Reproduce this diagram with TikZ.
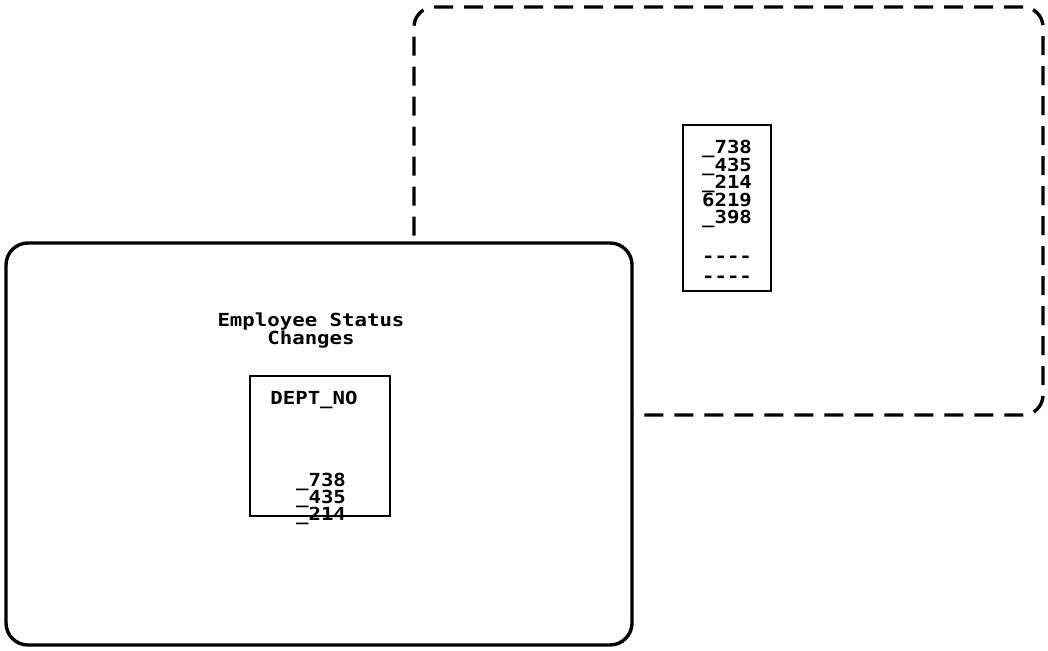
\documentclass[tikz,border=0pt]{standalone}
\usepackage{fontspec}
\newfontfamily\plotfont[FakeStretch=1.15]{DejaVu Sans Mono Bold}
\begin{document}
\begin{tikzpicture}[x=1pt,y=-1pt,
  screen/.style={draw=black,line width=3.4pt,rounded corners=22pt,fill=white,inner sep=0pt},
  ghost/.style={draw=black,line width=3.4pt,rounded corners=20pt,dash pattern=on 19pt off 11pt,inner sep=0pt},
  field/.style={draw=black,line width=1.5pt,fill=white,inner sep=0pt},
  label/.style={font=\plotfont\fontsize{18}{18}\selectfont,inner sep=0pt,anchor=base}]
  \useasboundingbox (0,0) rectangle (1048,650);

  % background window (dashed outline) with its value column
  \node[ghost,minimum width=629pt,minimum height=408pt] (back) at (728.5,211) {};
  \node[field,minimum width=88pt,minimum height=166pt] (col) at (727,208) {};
  \node[label] (b1) at (727,153.5) {\_738};
  \node[label] (b2) at (727,171) {\_435};
  \node[label] (b3) at (727,188.5) {\_214};
  \node[label] (b4) at (727,206) {6219};
  \node[label] (b5) at (727,223.5) {\_398};
  \node[label] (b6) at (727,262) {{-}{-}{-}{-}};
  \node[label] (b7) at (727,282) {{-}{-}{-}{-}};

  % front window (solid outline) covering part of the background one
  \node[screen,minimum width=626pt,minimum height=402pt] (front) at (319,444) {};
  \node[label] (t1) at (311,326.5) {Employee Status};
  \node[label] (t2) at (311,344.5) {Changes};
  \node[field,minimum width=140pt,minimum height=140pt] (dept) at (320,446) {};
  \node[label] (h) at (314,404) {DEPT\_NO};
  \node[label] (f1) at (321,486.5) {\_738};
  \node[label] (f2) at (321,503.5) {\_435};
  \node[label] (f3) at (321,520) {\_214};
\end{tikzpicture}
\end{document}
